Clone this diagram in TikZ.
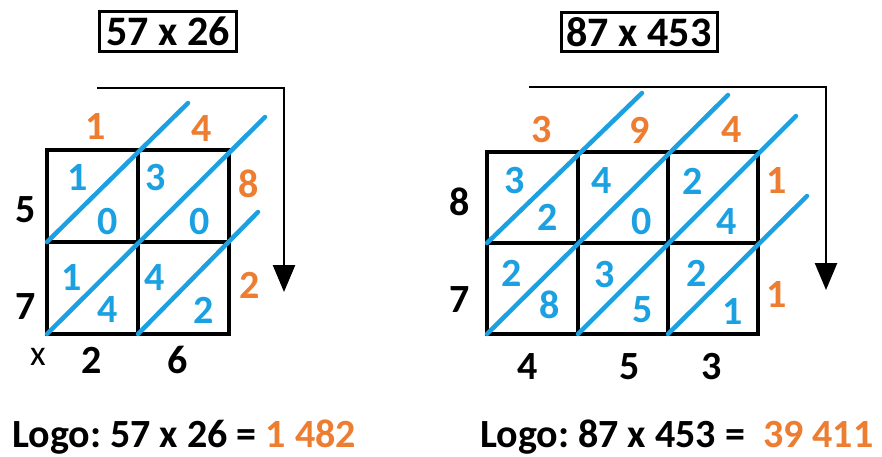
\documentclass[tikz,border=0pt]{standalone}
\usepackage{fontspec}
\setmainfont{Carlito}
\usetikzlibrary{arrows.meta}
\definecolor{myblue}{RGB}{27,161,226}
\definecolor{myorange}{RGB}{237,125,49}
\begin{document}
\begin{tikzpicture}[x=1pt,y=-1pt,
  gridline/.style={line width=4.5pt},
  diag/.style={myblue,line width=4.5pt,line cap=round},
  dig/.style={inner sep=0pt,font=\fontsize{40}{40}\selectfont\bfseries},
  bd/.style={dig,myblue},
  od/.style={dig,myorange},
  kd/.style={dig,black},
  titlebox/.style={draw,line width=3pt,inner sep=0pt,font=\fontsize{42}{42}\selectfont\bfseries},
  flow/.style={line width=2.5pt,-{Triangle[width=22pt,length=27pt]}},
  result/.style={inner sep=0pt,anchor=base west,font=\fontsize{40}{40}\selectfont\bfseries}
]
\useasboundingbox[fill=white] (0,0) rectangle (882,456);

% ---------- left: 57 x 26 ----------
\node[titlebox,minimum width=137pt,minimum height=40pt] (t1) at (168,31) {57 x 26};
\coordinate (a1s) at (97,88);
\coordinate (a1e) at (284,292);
\draw[flow] (a1s) -| (a1e);

\draw[gridline] (47,150) rectangle (229,334);
\draw[gridline] (138,150) -- (138,334);
\draw[gridline] (47,242) -- (229,242);

\draw[diag] (47,242) -- (188,103);
\draw[diag] (47,334) -- (265,117);
\draw[diag] (138,334) -- (258,212);

\node[od] (l1o1) at (96,127) {1};
\node[od] (l1o2) at (202,129) {4};
\node[od] (l1o3) at (249,184) {8};
\node[od] (l1o4) at (250,285) {2};

\node[bd] (l1b1) at (78,178) {1};
\node[bd] (l1b2) at (108,222) {0};
\node[bd] (l1b3) at (156,178) {3};
\node[bd] (l1b4) at (200,222) {0};
\node[bd] (l1b5) at (72,278) {1};
\node[bd] (l1b6) at (108,310) {4};
\node[bd] (l1b7) at (155,278) {4};
\node[bd] (l1b8) at (204,310) {2};

\node[kd] (l1k1) at (26,210) {5};
\node[kd] (l1k2) at (26,307) {7};
\node[inner sep=0pt,font=\fontsize{36}{36}\selectfont] (l1x) at (38,357) {x};
\node[kd] (l1k3) at (92,360) {2};
\node[kd] (l1k4) at (178,360) {6};

\node[result] (r1) at (12,447) {Logo:~57 x 26 = \textcolor{myorange}{1 482}};

% ---------- right: 87 x 453 ----------
\node[titlebox,minimum width=156pt,minimum height=39pt] (t2) at (639,32) {87 x 453};
\coordinate (a2s) at (529,87);
\coordinate (a2e) at (826,290);
\draw[flow] (a2s) -| (a2e);

\draw[gridline] (487,152) rectangle (758,334);
\draw[gridline] (578,152) -- (578,334);
\draw[gridline] (668,152) -- (668,334);
\draw[gridline] (487,243) -- (758,243);

\draw[diag] (487,243) -- (642,93);
\draw[diag] (487,334) -- (728,95);
\draw[diag] (578,334) -- (796,116);
\draw[diag] (668,334) -- (807,196);

\node[od] (l2o1) at (542,130) {3};
\node[od] (l2o2) at (640,130) {9};
\node[od] (l2o3) at (732,130) {4};
\node[od] (l2o4) at (777,181) {1};
\node[od] (l2o5) at (777,295) {1};

\node[bd] (l2b1) at (515,181) {3};
\node[bd] (l2b2) at (548,217) {2};
\node[bd] (l2b3) at (602,181) {4};
\node[bd] (l2b4) at (642,222) {0};
\node[bd] (l2b5) at (693,181) {2};
\node[bd] (l2b6) at (727,222) {4};
\node[bd] (l2b7) at (512,273) {2};
\node[bd] (l2b8) at (550,305) {8};
\node[bd] (l2b9) at (605,275) {3};
\node[bd] (l2b10) at (643,310) {5};
\node[bd] (l2b11) at (697,273) {2};
\node[bd] (l2b12) at (733,312) {1};

\node[kd] (l2k1) at (460,202) {8};
\node[kd] (l2k2) at (460,300) {7};
\node[kd] (l2k3) at (528,367) {4};
\node[kd] (l2k4) at (630,367) {5};
\node[kd] (l2k5) at (712,367) {3};

\node[result] (r2) at (480,447) {Logo:~87 x 453 = \ \textcolor{myorange}{39 411}};
\end{tikzpicture}
\end{document}
